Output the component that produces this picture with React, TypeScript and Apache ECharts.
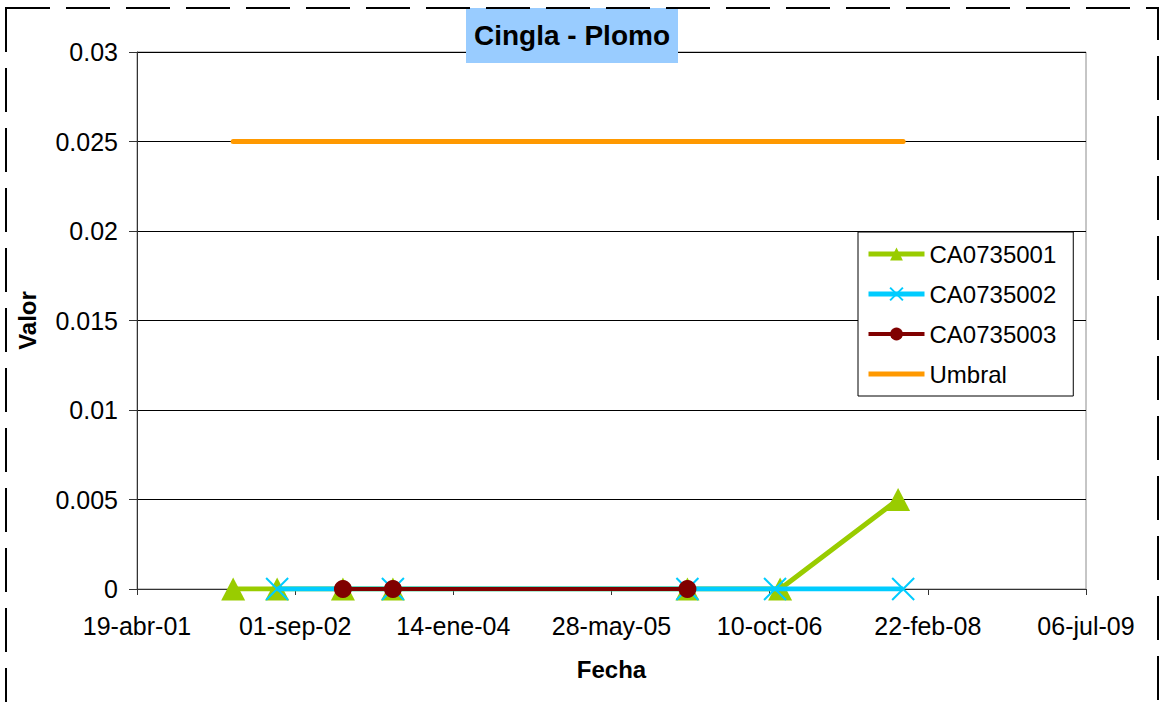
import React, { useEffect, useRef } from "react";
import * as echarts from "echarts";

// Excel serial dates (days since 1899-12-30)
const ca1Dates = [37304, 37443, 37651, 37809, 38740, 39033, 39406];
const ca1Values = [0, 0, 0, 0, 0, 0, 0.005];
const ca2Dates = [37443, 37809, 38740, 39017, 39422];
const ca2Values = [0, 0, 0, 0, 0];
const ca3Dates = [37651, 37809, 38740];
const ca3Values = [0, 0, 0];
const umbralDates = [37304, 39422];
const umbralValues = [0.025, 0.025];
const seriesNames = ["CA0735001", "CA0735002", "CA0735003", "Umbral"];
const monthNames = ["ene", "feb", "mar", "abr", "may", "jun", "jul", "ago", "sep", "oct", "nov", "dic"];
const xMin = 37000;
const xMax = 40000;
const xInterval = 500;
const yMin = 0;
const yMax = 0.03;
const yInterval = 0.005;

const FONT = "'Liberation Sans', Arial, sans-serif";

function pad(n: number) {
  return n < 10 ? "0" + n : String(n);
}
function fmtSerial(serial: number) {
  const d = new Date(Date.UTC(1899, 11, 30) + Math.round(serial) * 86400000);
  return pad(d.getUTCDate()) + "-" + monthNames[d.getUTCMonth()] + "-" + pad(d.getUTCFullYear() % 100);
}
function zip(xs: number[], ys: number[]) {
  return xs.map((x, i) => [x, ys[i]]);
}

export default function App() {
  const ref = useRef<HTMLDivElement>(null);
  useEffect(() => {
    if (!ref.current) return;
    const chart = echarts.init(ref.current, undefined, { renderer: "svg" });
    chart.setOption({
      animation: false,
      backgroundColor: "#fff",
      textStyle: { fontFamily: FONT },
      title: {
        text: "Cingla - Plomo",
        left: 466,
        top: 8,
        padding: [12, 8, 12, 8],
        backgroundColor: "#99CCFF",
        textStyle: { fontFamily: FONT, fontSize: 28, fontWeight: "bold", color: "#000", lineHeight: 31 },
      },
      graphic: [
        {
          type: "rect",
          silent: true,
          z: 100,
          shape: { x: 6, y: 8, width: 1152, height: 760 },
          style: { fill: "none", stroke: "#000", lineWidth: 2, lineDash: [44, 16] },
        },
      ],
      grid: {
        left: 137,
        right: 74,
        top: 52,
        bottom: 113,
        show: true,
        borderColor: "#8c8c8c",
        borderWidth: 1,
        backgroundColor: "#fff",
      },
      legend: {
        left: 858,
        top: 232,
        orient: "vertical",
        data: [
          { name: seriesNames[0], lineStyle: { width: 5 } },
          { name: seriesNames[1], lineStyle: { width: 5 } },
          { name: seriesNames[2], lineStyle: { width: 4 } },
          { name: seriesNames[3], icon: "path://M0,0H56V5H0Z", itemStyle: { color: "#FF9900" } },
        ],
        itemWidth: 56,
        itemHeight: 16,
        itemGap: 16,
        symbolKeepAspect: true,
        padding: [10, 17, 10, 8],
        borderColor: "#000",
        borderWidth: 1,
        borderRadius: 0,
        backgroundColor: "#fff",
        textStyle: { fontFamily: FONT, fontSize: 24, color: "#000" },
      },
      xAxis: {
        type: "value",
        min: xMin,
        max: xMax,
        interval: xInterval,
        name: "Fecha",
        nameLocation: "middle",
        nameGap: 68,
        nameTextStyle: { fontFamily: FONT, fontSize: 24, fontWeight: "bold", color: "#000" },
        axisLine: { show: true, onZero: false, lineStyle: { color: "#333", width: 1 } },
        axisTick: { show: true, inside: false, length: 6, lineStyle: { color: "#333" } },
        splitLine: { show: false },
        axisLabel: {
          fontFamily: FONT,
          fontSize: 25,
          color: "#000",
          margin: 24,
          showMinLabel: true,
          showMaxLabel: true,
          formatter: (v: number) => fmtSerial(v),
        },
      },
      yAxis: {
        type: "value",
        min: yMin,
        max: yMax,
        interval: yInterval,
        name: "Valor",
        nameLocation: "middle",
        nameRotate: 90,
        nameGap: 98,
        nameTextStyle: { fontFamily: FONT, fontSize: 24, fontWeight: "bold", color: "#000" },
        axisLine: { show: true, lineStyle: { color: "#333", width: 1 } },
        axisTick: { show: true, inside: false, length: 8, lineStyle: { color: "#333" } },
        splitLine: { show: true, lineStyle: { color: "#000", width: 1 } },
        axisLabel: {
          fontFamily: FONT,
          fontSize: 25,
          color: "#000",
          margin: 19,
          formatter: (v: number) => String(+v.toFixed(3)),
        },
      },
      series: [
        {
          name: seriesNames[0],
          type: "line",
          data: zip(ca1Dates, ca1Values),
          symbol: "triangle",
          symbolSize: [24, 23],
          lineStyle: { color: "#99CC00", width: 5 },
          itemStyle: { color: "#99CC00" },
          z: 2,
        },
        {
          name: seriesNames[1],
          type: "line",
          data: zip(ca2Dates, ca2Values),
          symbol: "path://M0,0L10,10M10,0L0,10",
          symbolSize: 22,
          lineStyle: { color: "#00CCFF", width: 5 },
          itemStyle: { color: "#00CCFF", borderColor: "#00CCFF", borderWidth: 2 },
          z: 3,
        },
        {
          name: seriesNames[2],
          type: "line",
          data: zip(ca3Dates, ca3Values),
          symbol: "circle",
          symbolSize: 18,
          lineStyle: { color: "#800000", width: 4 },
          itemStyle: { color: "#800000" },
          z: 4,
        },
        {
          name: seriesNames[3],
          type: "line",
          data: zip(umbralDates, umbralValues),
          symbol: "none",
          showSymbol: false,
          lineStyle: { color: "#FF9900", width: 5, cap: "round" },
          itemStyle: { color: "#FF9900" },
          z: 5,
        },
      ],
    });
    return () => chart.dispose();
  }, []);
  return (
    <div
      ref={ref}
      style={{ position: "fixed", left: 0, top: 0, width: 1160, height: 702, background: "#fff" }}
    />
  );
}
